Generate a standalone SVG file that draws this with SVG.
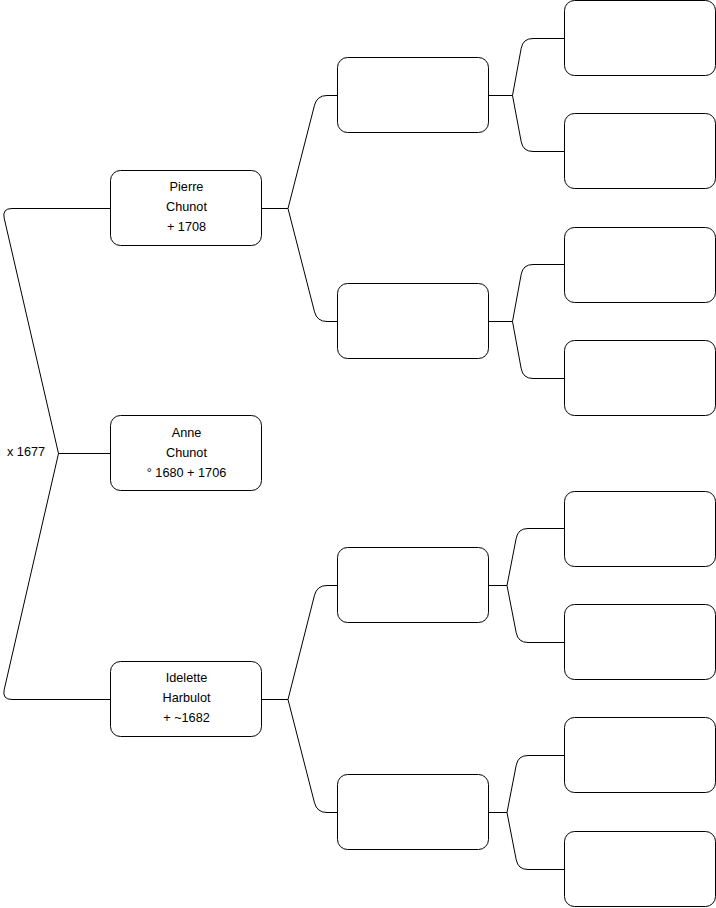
<svg xmlns="http://www.w3.org/2000/svg" width="716" height="908" viewBox="0 0 716 908">
<style>
.n{fill:#fff;stroke:#000;stroke-width:1}
.c{fill:none;stroke:#000;stroke-width:1}
text{font-family:"Liberation Sans",Arial,sans-serif;font-size:12.7px;fill:#000}
.m{text-anchor:middle}
</style>
<rect width="716" height="908" fill="#fff"/>
<g id="connectors">
<path class="c" d="M111 453.5 H58.5 L4.2 218.2 Q2 208.5 12 208.5 H111"/>
<path class="c" d="M58.5 453.5 L4.2 689.7 Q2 699.5 12 699.5 H111"/>
<path class="c" d="M262 208.5 H288 L314.5 105.2 Q317 95.5 327 95.5 H338"/>
<path class="c" d="M288 208.5 L314.5 311.8 Q317 321.5 327 321.5 H338"/>
<path class="c" d="M262 699.5 H288 L314.5 595.2 Q317 585.5 327 585.5 H338"/>
<path class="c" d="M288 699.5 L314.5 802.8 Q317 812.5 327 812.5 H338"/>
<path class="c" d="M489 95.5 H512.5 L521.2 48.3 Q523 38.5 533 38.5 H565"/>
<path class="c" d="M512.5 95.5 L521.2 141.7 Q523 151.5 533 151.5 H565"/>
<path class="c" d="M489 321.5 H512.5 L521.2 274.3 Q523 264.5 533 264.5 H565"/>
<path class="c" d="M512.5 321.5 L521.2 368.7 Q523 378.5 533 378.5 H565"/>
<path class="c" d="M489 585.5 H507 L516.2 538.3 Q518 528.5 528 528.5 H565"/>
<path class="c" d="M507 585.5 L516.2 632.7 Q518 642.5 528 642.5 H565"/>
<path class="c" d="M489 812.5 H507 L516.2 765.3 Q518 755.5 528 755.5 H565"/>
<path class="c" d="M507 812.5 L516.2 859.7 Q518 869.5 528 869.5 H565"/>
</g>
<text id="marriage" x="7" y="455.5">x 1677</text>
<g id="pierre"><rect class="n" x="110.5" y="170.5" width="151" height="75" rx="10"/>
<text class="m" x="186.5" y="191">Pierre</text><text class="m" x="186.5" y="211">Chunot</text><text class="m" x="186.5" y="231">+ 1708</text></g>
<g id="anne"><rect class="n" x="110.5" y="415.5" width="151" height="75" rx="10"/>
<text class="m" x="186.5" y="437">Anne</text><text class="m" x="186.5" y="457">Chunot</text><text class="m" x="186.5" y="477">° 1680 + 1706</text></g>
<g id="idelette"><rect class="n" x="110.5" y="661.5" width="151" height="75" rx="10"/>
<text class="m" x="186.5" y="682">Idelette</text><text class="m" x="186.5" y="702">Harbulot</text><text class="m" x="186.5" y="722">+ ~1682</text></g>
<g id="p1"><rect class="n" x="337.5" y="57.5" width="151" height="75" rx="10"/></g>
<g id="p2"><rect class="n" x="337.5" y="283.5" width="151" height="75" rx="10"/></g>
<g id="p3"><rect class="n" x="337.5" y="547.5" width="151" height="75" rx="10"/></g>
<g id="p4"><rect class="n" x="337.5" y="774.5" width="151" height="75" rx="10"/></g>
<g id="g1"><rect class="n" x="564.5" y="0.5" width="151" height="75" rx="10"/></g>
<g id="g2"><rect class="n" x="564.5" y="113.5" width="151" height="75" rx="10"/></g>
<g id="g3"><rect class="n" x="564.5" y="227.5" width="151" height="75" rx="10"/></g>
<g id="g4"><rect class="n" x="564.5" y="340.5" width="151" height="75" rx="10"/></g>
<g id="g5"><rect class="n" x="564.5" y="491.5" width="151" height="75" rx="10"/></g>
<g id="g6"><rect class="n" x="564.5" y="604.5" width="151" height="75" rx="10"/></g>
<g id="g7"><rect class="n" x="564.5" y="717.5" width="151" height="75" rx="10"/></g>
<g id="g8"><rect class="n" x="564.5" y="831.5" width="151" height="75" rx="10"/></g>
</svg>
